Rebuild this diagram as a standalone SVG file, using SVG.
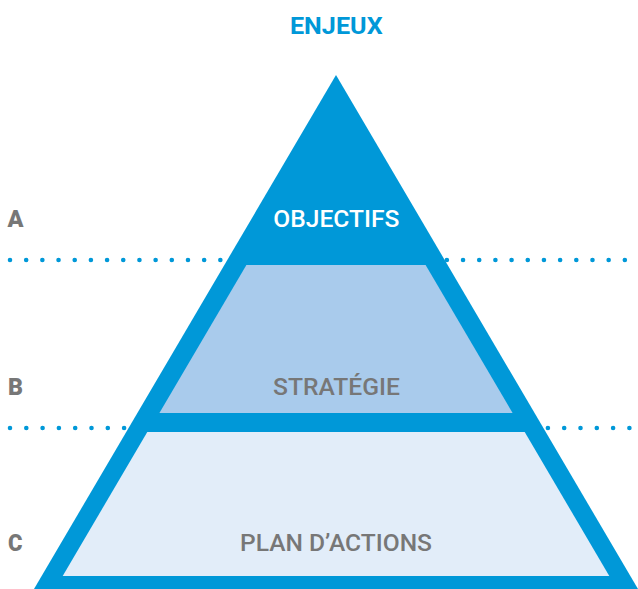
<svg xmlns="http://www.w3.org/2000/svg" width="638" height="589" viewBox="0 0 638 589">
<style>
.dots{fill:none;stroke:#0098d8;stroke-width:4.6;stroke-linecap:round}
.lbl{font-family:Roboto,"Liberation Sans",sans-serif;font-weight:900;font-size:24px;fill:#777777}
.in{font-family:Roboto,"Liberation Sans",sans-serif;font-weight:500;font-size:24px;fill:#777777;text-anchor:middle}
</style>
<rect width="638" height="589" fill="#ffffff"/>
<g id="connectors">
<line class="dots" x1="10" y1="260" x2="625" y2="260" stroke-dasharray="0 16.18"/>
<line class="dots" x1="10" y1="428" x2="630" y2="428" stroke-dasharray="0 16.3"/>
</g>
<g id="pyramid">
<polygon points="336,75 34,589 638,589" fill="#0098d8"/>
</g>
<g id="strategie">
<polygon points="246.4,265 425.6,265 512.6,413 159.4,413" fill="#a9cbec"/>
<text class="in" x="336.5" y="395" textLength="127" lengthAdjust="spacingAndGlyphs">STRATÉGIE</text>
</g>
<g id="plan">
<polygon points="147.3,432 524.7,432 609.3,576 62.7,576" fill="#e2edf9"/>
<text class="in" x="336" y="550.5" textLength="192" lengthAdjust="spacingAndGlyphs">PLAN D’ACTIONS</text>
</g>
<g id="objectifs">
<text class="in" x="336.3" y="226.5" textLength="126" lengthAdjust="spacingAndGlyphs" style="fill:#ffffff">OBJECTIFS</text>
</g>
<g id="enjeux">
<text x="336.3" y="34.3" text-anchor="middle" textLength="92.7" lengthAdjust="spacingAndGlyphs" style="font-family:Roboto,'Liberation Sans',sans-serif;font-weight:700;font-size:23px;fill:#0098d8">ENJEUX</text>
</g>
<g id="labels">
<text class="lbl" x="7.5" y="226.5" textLength="16" lengthAdjust="spacingAndGlyphs">A</text>
<text class="lbl" x="8" y="395" textLength="15" lengthAdjust="spacingAndGlyphs">B</text>
<text class="lbl" x="8" y="550.5" textLength="14.5" lengthAdjust="spacingAndGlyphs">C</text>
</g>
</svg>
